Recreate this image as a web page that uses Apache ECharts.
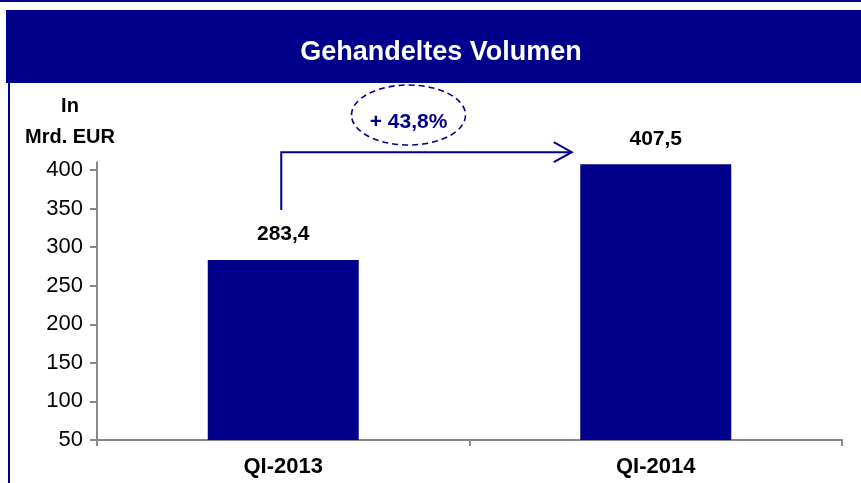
<!DOCTYPE html>
<html><head><meta charset="utf-8">
<script src="https://cdn.jsdelivr.net/npm/echarts@6/dist/echarts.min.js"></script>
<style>html,body{margin:0;padding:0;background:#fff}#c{width:861px;height:483px}</style>
</head><body><div id="c"></div>
<script>
var categories = ['QI-2013', 'QI-2014'];
var values = [283.4, 407.5];
var yTicks = [50, 100, 150, 200, 250, 300, 350, 400];
var changeLabel = '+ 43,8%';
var titleText = 'Gehandeltes Volumen';
var unitText = 'In\nMrd. EUR';

var NAVY = '#00008B';
var chart = echarts.init(document.getElementById('c'), null, {renderer: 'canvas'});
var F = 'Arial, "Liberation Sans", Helvetica, sans-serif';

var option = {
  animation: false,
  backgroundColor: '#fff',
  grid: {left: 97, right: 19, top: 162.3, bottom: 43, containLabel: false},
  xAxis: {
    type: 'category', data: categories,
    axisLine: {show: true, lineStyle: {color: '#888', width: 2}},
    axisTick: {show: true, length: 6, lineStyle: {color: '#888', width: 2}},
    axisLabel: {color: '#000', fontFamily: F, fontWeight: 'bold', fontSize: 22, margin: 16}
  },
  yAxis: {
    type: 'value', min: 50, max: 410, interval: 50,
    axisLine: {show: true, lineStyle: {color: '#888', width: 2}},
    axisTick: {show: true, length: 7, customValues: yTicks, lineStyle: {color: '#888', width: 2}},
    splitLine: {show: false},
    axisLabel: {color: '#000', fontFamily: F, fontSize: 22, margin: 14, customValues: yTicks}
  },
  series: [{
    type: 'bar', data: values, barWidth: 151,
    itemStyle: {color: NAVY},
    label: {
      show: true, position: 'top', distance: 15, color: '#000',
      fontFamily: F, fontWeight: 'bold', fontSize: 21,
      formatter: function (p) { return p.value.toFixed(1).replace('.', ','); }
    }
  }],
  graphic: []
};
chart.setOption(option);

// annotation positions derived from the axes
var p1 = chart.convertToPixel({seriesIndex: 0}, [0, values[0]]);
var p2 = chart.convertToPixel({seriesIndex: 0}, [1, values[1]]);
var x1 = p1[0] - 2;
var yTop = p2[1] - 12;
var yBottom = p1[1] - 50;
var xTip = p2[0] - 84;
var cx = (x1 + xTip) / 2 - 18;

chart.setOption({graphic: [
  {type: 'rect', shape: {x: 0, y: 0, width: 861, height: 2}, style: {fill: NAVY}},
  {type: 'rect', shape: {x: 6, y: 10, width: 855, height: 73}, style: {fill: NAVY}},
  {type: 'text', x: 441, y: 53, style: {text: titleText, fill: '#fff', font: 'bold 27px ' + F, textAlign: 'center', textVerticalAlign: 'middle'}},
  {type: 'rect', shape: {x: 8, y: 83, width: 2, height: 400}, style: {fill: NAVY}},
  {type: 'text', x: 70, y: 122, style: {text: unitText, fill: '#000', font: 'bold 20px ' + F, textAlign: 'center', textVerticalAlign: 'middle', lineHeight: 31}},
  {type: 'polyline', shape: {points: [[x1, yBottom], [x1, yTop], [xTip, yTop]]}, style: {stroke: NAVY, lineWidth: 2, fill: null}},
  {type: 'polyline', shape: {points: [[xTip - 18, yTop - 10], [xTip, yTop], [xTip - 18, yTop + 10]]}, style: {stroke: NAVY, lineWidth: 2, fill: null}},
  {type: 'ellipse', shape: {cx: cx, cy: 115, rx: 57, ry: 30}, style: {stroke: NAVY, lineWidth: 1.6, lineDash: [6, 4], fill: null}},
  {type: 'text', x: cx, y: 122, style: {text: changeLabel, fill: NAVY, font: 'bold 21px ' + F, textAlign: 'center', textVerticalAlign: 'middle'}}
]});
</script></body></html>
